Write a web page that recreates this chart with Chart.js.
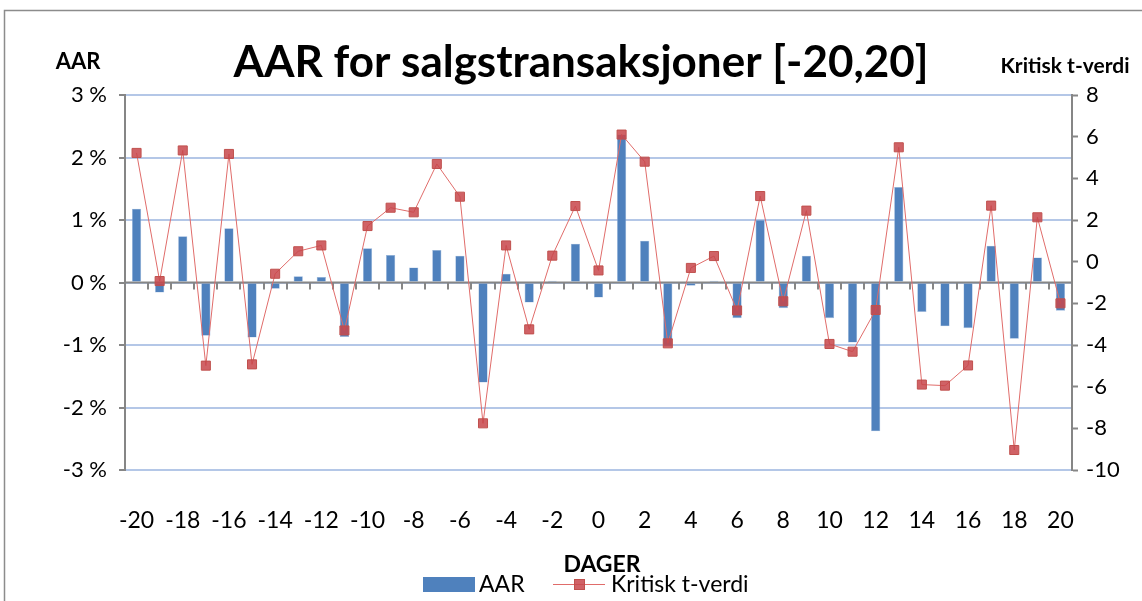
<!DOCTYPE html>
<html>
<head>
<meta charset="utf-8">
<script src="https://cdn.jsdelivr.net/npm/chart.js@4/dist/chart.umd.min.js"></script>
<style>
    html, body { margin: 0; padding: 0; background: #fff; }
    #wrap { width: 1142px; height: 601px; position: relative; }
</style>
</head>
<body>
<div id="wrap"><canvas id="aarChart" width="1142" height="601"></canvas></div>
<script>
// dager i hendelsesvinduet
const dager = [-20, -19, -18, -17, -16, -15, -14, -13, -12, -11, -10, -9, -8, -7, -6, -5, -4, -3, -2, -1,
    0, 1, 2, 3, 4, 5, 6, 7, 8, 9, 10, 11, 12, 13, 14, 15, 16, 17, 18, 19, 20];

// AAR i prosent
const aar = [1.18, -0.16, 0.74, -0.85, 0.87, -0.88, -0.10, 0.10, 0.09, -0.87,
    0.55, 0.44, 0.24, 0.52, 0.43, -1.60, 0.14, -0.32, 0.03, 0.62,
    -0.24, 2.37, 0.67, -1.02, -0.05, 0.03, -0.57, 1.00, -0.41, 0.43,
    -0.57, -0.96, -2.38, 1.53, -0.47, -0.70, -0.73, 0.59, -0.90, 0.40, -0.45];

// kritisk t-verdi
const tVerdi = [5.22, -0.93, 5.34, -4.99, 5.17, -4.93, -0.58, 0.50, 0.78, -3.30,
    1.71, 2.59, 2.37, 4.69, 3.12, -7.76, 0.78, -3.25, 0.29, 2.67,
    -0.42, 6.10, 4.80, -3.92, -0.30, 0.27, -2.34, 3.15, -1.90, 2.45,
    -3.95, -4.32, -2.32, 5.49, -5.90, -5.95, -4.98, 2.69, -9.04, 2.13, -2.00];

const FONT = 'Lato, "Open Sans", sans-serif';
const BLA = '#4f81bd';
const ROD = '#c0504d';
const GRA = '#868686';

// tekst, nullinje og legende som Excel tegner
const extras = {
    id: 'extras',
    beforeDatasetsDraw(chart) {
        const c = chart.ctx;
        const x = chart.scales.x;
        const y = chart.scales.y;
        const y0 = y.getPixelForValue(0);
        const step = x.getPixelForValue(1) - x.getPixelForValue(0);
        c.save();
        c.strokeStyle = GRA;
        c.lineWidth = 2;
        c.beginPath();
        c.moveTo(chart.chartArea.left, y0);
        c.lineTo(chart.chartArea.right, y0);
        for (let i = 0; i <= dager.length; i++) {
            const px = Math.round(x.getPixelForValue(0) - step / 2 + i * step);
            c.moveTo(px, y0);
            c.lineTo(px, y0 + 7);
        }
        c.stroke();
        c.restore();
    },
    afterDraw(chart) {
        const c = chart.ctx;
        c.save();
        // ramme
        c.strokeStyle = '#8c8c8c';
        c.lineWidth = 1.5;
        c.strokeRect(4.5, 10.5, 1200, 700);

        c.fillStyle = '#000';
        c.textAlign = 'center';
        c.textBaseline = 'middle';
        c.font = 'bold 44px ' + FONT;
        c.fillText('AAR for salgstransaksjoner [-20,20]', 581, 63);
        c.font = 'bold 22px ' + FONT;
        c.fillText('AAR', 78, 62);
        c.font = 'bold 21px ' + FONT;
        c.fillText('Kritisk t-verdi', 1065, 66);
        c.font = 'bold 23px ' + FONT;
        c.fillText('DAGER', 602, 565);

        // legende
        c.fillStyle = BLA;
        c.fillRect(423, 577, 52, 15);
        c.fillStyle = '#000';
        c.textAlign = 'left';
        c.font = '23px ' + FONT;
        c.fillText('AAR', 479, 585);
        c.fillText('Kritisk t-verdi', 611, 585);
        c.strokeStyle = '#e06c6a';
        c.lineWidth = 1;
        c.beginPath();
        c.moveTo(553, 584.5);
        c.lineTo(605, 584.5);
        c.stroke();
        c.fillStyle = 'rgba(200, 70, 75, 0.85)';
        c.strokeStyle = ROD;
        c.fillRect(574.5, 579.5, 10, 10);
        c.strokeRect(574.5, 579.5, 10, 10);
        c.restore();
    }
};

new Chart(document.getElementById('aarChart'), {
    data: {
        labels: dager,
        datasets: [
            {
                type: 'line',
                label: 'Kritisk t-verdi',
                data: tVerdi,
                yAxisID: 'y2',
                borderColor: '#e06c6a',
                borderWidth: 1,
                pointStyle: 'rect',
                pointRadius: 6.4,
                pointBackgroundColor: 'rgba(200, 70, 75, 0.85)',
                pointBorderColor: ROD,
                pointBorderWidth: 1,
                tension: 0,
                order: 0
            },
            {
                type: 'bar',
                label: 'AAR',
                data: aar,
                yAxisID: 'y',
                backgroundColor: BLA,
                borderColor: '#9bb7dc',
                borderWidth: 0.6,
                categoryPercentage: 1,
                barPercentage: 0.4,
                order: 1
            }
        ]
    },
    options: {
        responsive: false,
        animation: false,
        layout: { padding: { top: 95, left: 0, right: 0, bottom: 0 } },
        plugins: {
            legend: { display: false },
            title: { display: false },
            tooltip: { enabled: false }
        },
        scales: {
            x: {
                type: 'category',
                grid: { display: false },
                border: { display: false },
                ticks: {
                    autoSkip: false,
                    maxRotation: 0,
                    padding: 29,
                    color: '#000',
                    font: { family: FONT, size: 23 },
                    callback: function (val, i) {
                        return dager[i] % 2 === 0 ? String(dager[i]) : '';
                    }
                },
                afterFit: function (s) { s.height = 131; }
            },
            y: {
                position: 'left',
                min: -3,
                max: 3,
                ticks: {
                    stepSize: 1,
                    padding: 12,
                    color: '#000',
                    font: { family: FONT, size: 22 },
                    callback: v => v + ' %'
                },
                grid: { color: '#b4c7e7', lineWidth: 2, tickColor: GRA, tickLength: 6, tickWidth: 2 },
                border: { display: true, color: GRA, width: 2 },
                afterFit: function (s) { s.width = 125; }
            },
            y2: {
                position: 'right',
                min: -10,
                max: 8,
                ticks: {
                    stepSize: 2,
                    padding: 8,
                    color: '#000',
                    font: { family: FONT, size: 22 }
                },
                grid: { drawOnChartArea: false, tickColor: GRA, tickLength: 6, tickWidth: 2 },
                border: { display: true, color: GRA, width: 2 },
                afterFit: function (s) { s.width = 70; }
            }
        }
    },
    plugins: [extras]
});
</script>
</body>
</html>
